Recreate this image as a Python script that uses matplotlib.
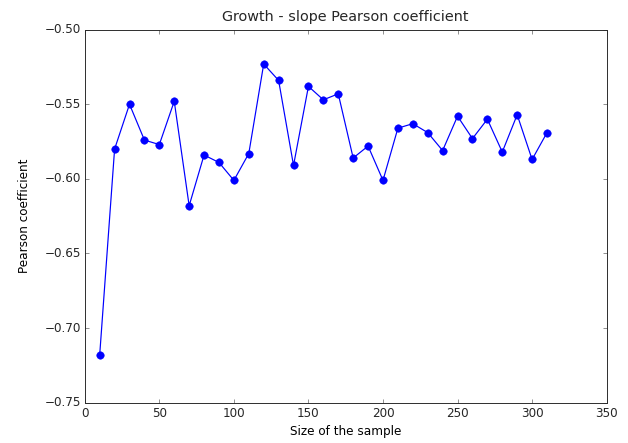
import numpy as np
import matplotlib
matplotlib.use("Agg")
import matplotlib.pyplot as plt

# sample sizes and Pearson coefficients
sizes = [10, 20, 30, 40, 50, 60, 70, 80, 90, 100, 110, 120, 130, 140, 150, 160,
         170, 180, 190, 200, 210, 220, 230, 240, 250, 260, 270, 280, 290, 300, 310]
pearson = [-0.718, -0.580, -0.550, -0.574, -0.577, -0.548, -0.618, -0.584,
           -0.589, -0.601, -0.583, -0.523, -0.534, -0.591, -0.538, -0.547,
           -0.543, -0.586, -0.578, -0.601, -0.566, -0.563, -0.569, -0.581,
           -0.558, -0.573, -0.560, -0.582, -0.557, -0.587, -0.569]

plt.style.use("classic")
plt.rcParams["font.family"] = ["DejaVu Sans"]
plt.rcParams["text.color"] = "#262626"
plt.rcParams["xtick.color"] = "#262626"
plt.rcParams["ytick.color"] = "#262626"
plt.rcParams["axes.edgecolor"] = "#333333"

dpi = 72
fig = plt.figure(figsize=(628 / dpi, 443 / dpi), dpi=dpi, facecolor="white")
ax = fig.add_axes([0.135, 0.091, 0.831, 0.842])

ax.plot(sizes, pearson, "bo-", markersize=7.5, markeredgecolor="b", linewidth=1.2)
ax.set_xlim(0, 350)
ax.set_ylim(-0.75, -0.50)
ax.set_title("Growth - slope Pearson coefficient", fontsize=14.4, pad=8.5)
ax.set_xlabel("Size of the sample", fontsize=12)
ax.set_ylabel("Pearson coefficient", fontsize=12, labelpad=13)

fig.savefig("out.png", dpi=dpi, facecolor="white")
